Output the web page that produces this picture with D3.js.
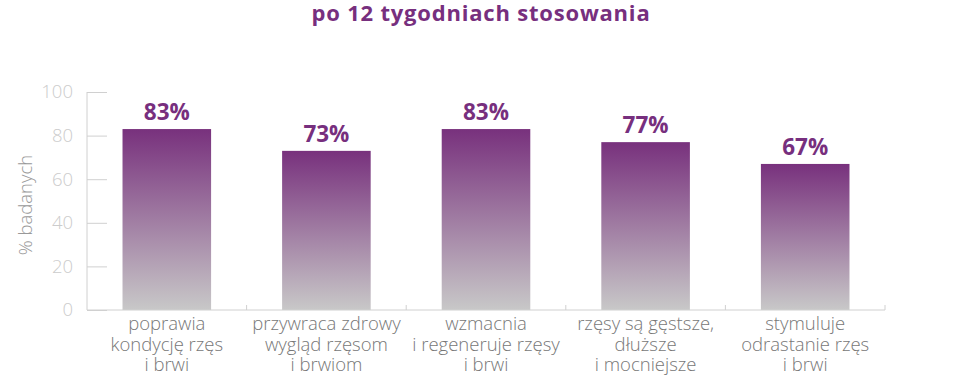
<!DOCTYPE html>
<html>
<head>
<meta charset="utf-8">
<script src="https://cdn.jsdelivr.net/npm/d3@7"></script>
<style>
  body { margin: 0; background: #fff; }
  text { font-family: "Open Sans", sans-serif; }
</style>
</head>
<body>
<svg id="chart"></svg>
<script>
const categories = [
  ["poprawia", "kondycję rzęs", "i brwi"],
  ["przywraca zdrowy", "wygląd rzęsom", "i brwiom"],
  ["wzmacnia", "i regeneruje rzęsy", "i brwi"],
  ["rzęsy są gęstsze,", "dłuższe", "i mocniejsze"],
  ["stymuluje", "odrastanie rzęs", "i brwi"]
];
const values = [83, 73, 83, 77, 67];
const yTicks = [0, 20, 40, 60, 80, 100];

const svgWidth = 960, svgHeight = 382;
const margin = {top: 92, bottom: 72, left: 87, right: 75};
const width = svgWidth - margin.left - margin.right;
const height = svgHeight - margin.top - margin.bottom;

const svg = d3.select("#chart")
  .attr("width", svgWidth)
  .attr("height", svgHeight);

const defs = svg.append("defs");
const grad = defs.append("linearGradient")
  .attr("id", "barGrad")
  .attr("x1", 0).attr("y1", 0).attr("x2", 0).attr("y2", 1);
grad.append("stop").attr("offset", "0%").attr("stop-color", "#78317d");
grad.append("stop").attr("offset", "100%").attr("stop-color", "#c8c8c8");

svg.append("text")
  .text("po 12 tygodniach stosowania")
  .attr("x", 481)
  .attr("y", 21)
  .attr("text-anchor", "middle")
  .attr("font-size", 22)
  .attr("font-weight", 700)
  .attr("letter-spacing", 0.8)
  .attr("fill", "#772f7e");

const g = svg.append("g")
  .attr("transform", `translate(${margin.left},${margin.top})`);

const x = d3.scaleBand()
  .domain(d3.range(categories.length))
  .range([0, width])
  .paddingInner(0.445)
  .paddingOuter(0.2225);

const y = d3.scaleLinear()
  .domain([0, 100])
  .range([height, 0]);

// y axis
const yAxis = g.append("g")
  .call(d3.axisRight(y).tickValues(yTicks).tickSize(20).tickFormat(""));
yAxis.select(".domain").remove();
yAxis.selectAll(".tick line").attr("stroke", "#d0d0d0");
g.append("line")
  .attr("x1", 0).attr("x2", 0)
  .attr("y1", 0).attr("y2", height)
  .attr("stroke", "#d0d0d0");
g.selectAll(".ylab")
  .data(yTicks)
  .join("text")
  .attr("class", "ylab")
  .attr("x", -14)
  .attr("y", d => y(d))
  .attr("dy", "0.35em")
  .attr("text-anchor", "end")
  .attr("font-size", 18.5)
  .attr("font-weight", 300)
  .attr("fill", "#cccccc")
  .text(d => d);

svg.append("text")
  .text("% badanych")
  .attr("transform", `translate(32,${margin.top + height / 2 + 4}) rotate(-90)`)
  .attr("text-anchor", "middle")
  .attr("font-size", 18.5)
  .attr("font-weight", 300)
  .attr("fill", "#999999");

// bars
g.selectAll(".bar")
  .data(values)
  .join("rect")
  .attr("class", "bar")
  .attr("x", (d, i) => x(i))
  .attr("y", d => y(d))
  .attr("width", x.bandwidth())
  .attr("height", d => height - y(d))
  .attr("fill", "url(#barGrad)");

g.selectAll(".val")
  .data(values)
  .join("text")
  .attr("class", "val")
  .attr("x", (d, i) => x(i) + x.bandwidth() / 2)
  .attr("y", d => y(d) - 9)
  .attr("text-anchor", "middle")
  .attr("font-size", 22.5)
  .attr("font-weight", 700)
  .attr("fill", "#772f7e")
  .text(d => d + "%");

// x axis
const step = width / categories.length;
g.append("line")
  .attr("x1", 0).attr("x2", width)
  .attr("y1", height).attr("y2", height)
  .attr("stroke", "#d0d0d0");
g.selectAll(".xtick")
  .data(d3.range(1, categories.length + 1))
  .join("line")
  .attr("class", "xtick")
  .attr("x1", d => d * step).attr("x2", d => d * step)
  .attr("y1", height).attr("y2", height - 5)
  .attr("stroke", "#d0d0d0");

const cat = g.selectAll(".cat")
  .data(categories)
  .join("text")
  .attr("class", "cat")
  .attr("text-anchor", "middle")
  .attr("font-size", 18.5)
  .attr("font-weight", 300)
  .attr("fill", "#777777")
  .attr("transform", (d, i) => `translate(${x(i) + x.bandwidth() / 2},${height + 20})`);
cat.selectAll("tspan")
  .data(d => d)
  .join("tspan")
  .attr("x", 0)
  .attr("y", (d, i) => i * 20.5)
  .text(d => d);
</script>
</body>
</html>
